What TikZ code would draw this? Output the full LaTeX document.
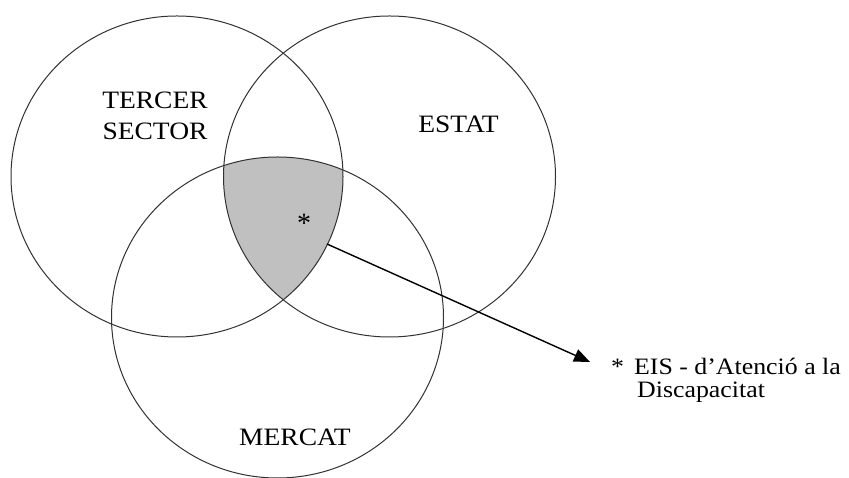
\documentclass[tikz,border=0pt]{standalone}
\usepackage{fontspec}
\setmainfont{Liberation Serif}
\newfontfamily\widefont[FakeStretch=1.1,Ligatures=TeX]{Liberation Serif}
\usetikzlibrary{arrows.meta,shapes.geometric}
\definecolor{venngray}{RGB}{192,192,192}
\definecolor{vennline}{RGB}{50,50,50}
\tikzset{
  setcirc/.style={ellipse, draw=vennline, line width=1pt, minimum width=332pt, minimum height=321pt, inner sep=0pt},
  biglabel/.style={font=\widefont\fontsize{25}{31}\selectfont, inner sep=0pt, anchor=base},
  leglabel/.style={font=\widefont\fontsize{23.5}{24}\selectfont, inner sep=0pt, anchor=base west},
  pointer/.style={line width=1.4pt, -{Triangle[length=16pt,width=13pt]}}
}
\begin{document}
\begin{tikzpicture}[x=1pt,y=1pt]
\useasboundingbox[fill=white] (0,0) rectangle (849,478);
% shaded common region
\begin{scope}
  \clip (177,301.5) ellipse (166 and 160.5);
  \clip (389.5,301.5) ellipse (166 and 160.5);
  \fill[venngray] (277.5,160.5) ellipse (166 and 160.5);
\end{scope}
\node[setcirc] (ter) at (177,301.5) {};
\node[setcirc] (est) at (389.5,301.5) {};
\node[setcirc] (mer) at (277.5,160.5) {};
\node[biglabel] (t1) at (155,369) {TERCER};
\node[biglabel] (t2) at (155,338) {SECTOR};
\node[biglabel] (t3) at (458.5,345) {ESTAT};
\node[biglabel] (t4) at (295,32) {MERCAT};
\node[font=\fontsize{28}{28}\selectfont, inner sep=0pt, anchor=base] (ast) at (304,245) {*};
\coordinate (as) at (327,234);
\coordinate (ae) at (590,116);
\draw[pointer] (as) -- (ae);
\node[leglabel] (l1) at (611,103) {*\hspace{10pt}EIS - d’Atenció a la};
\node[leglabel] (l2) at (637,80) {Discapacitat};
\end{tikzpicture}
\end{document}
